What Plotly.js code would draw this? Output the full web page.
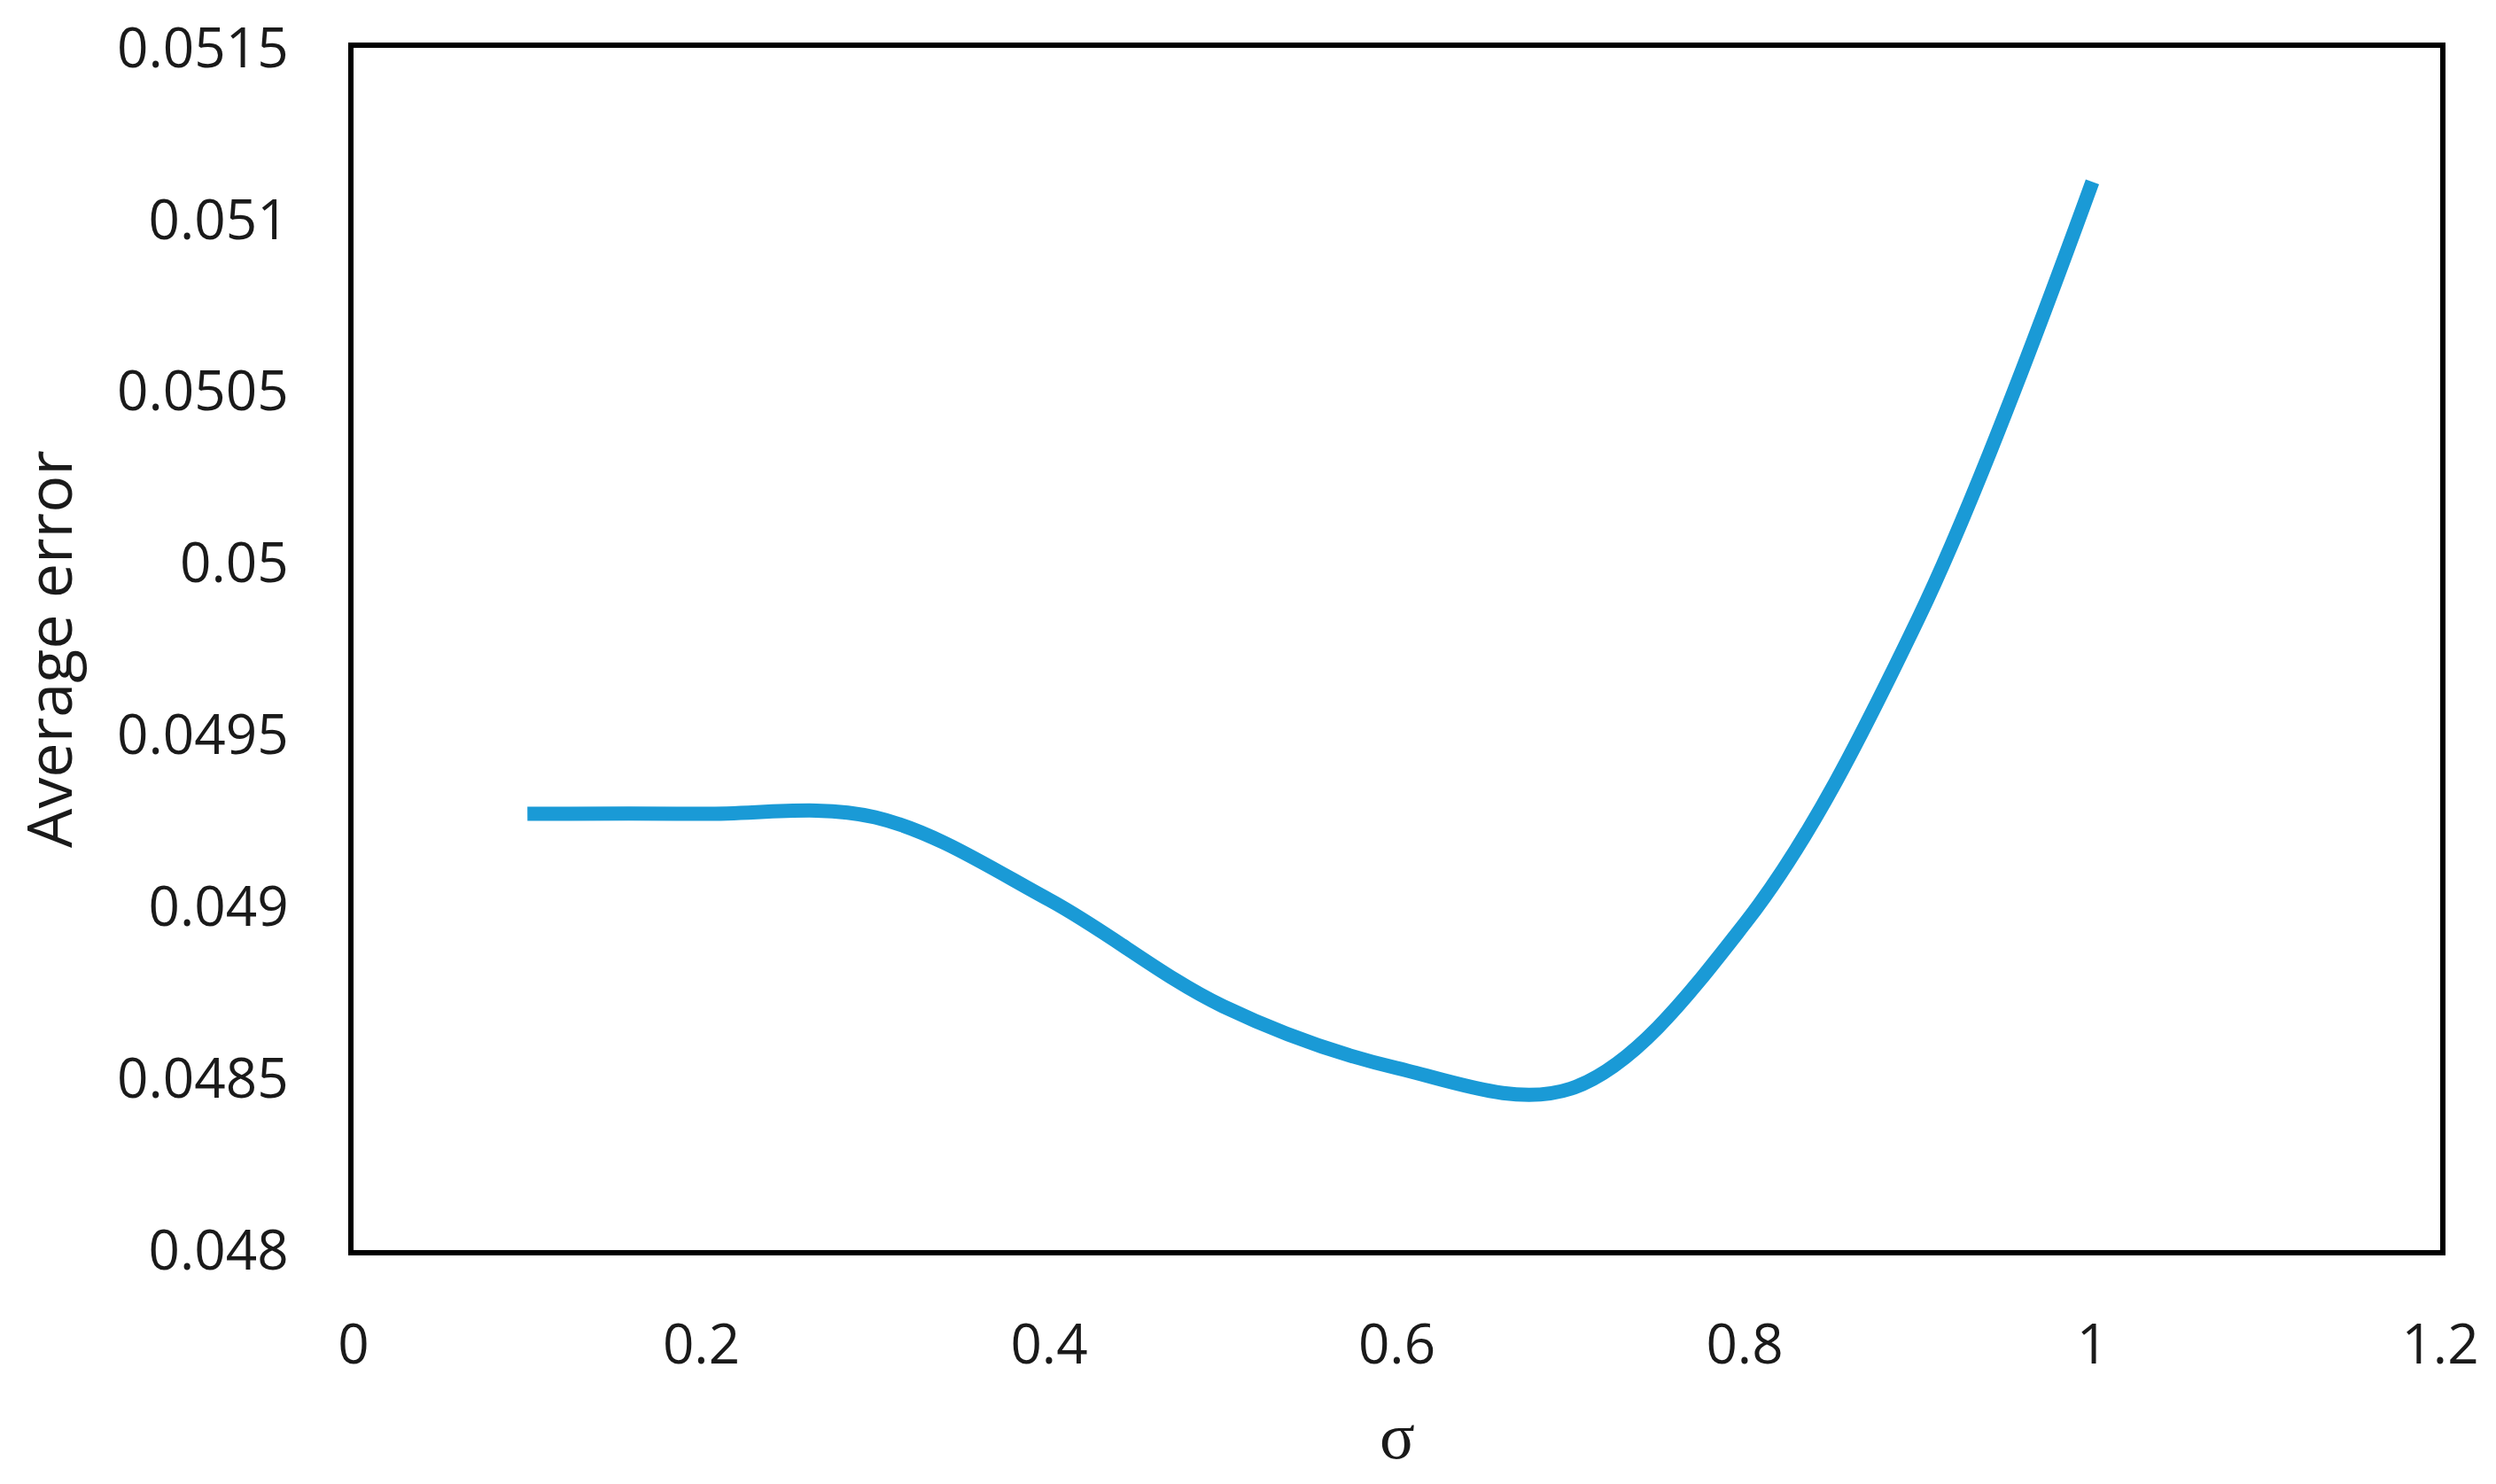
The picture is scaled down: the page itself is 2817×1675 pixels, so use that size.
<!DOCTYPE html>
<html>
<head>
<meta charset="utf-8">
<script src="https://cdn.plot.ly/plotly-3.0.1.min.js"></script>
<style>
  html, body { margin: 0; padding: 0; background: #fff; }
  #myPlot { width: 2817px; height: 1675px; }
</style>
</head>
<body>
<div id="myPlot"></div>
<script>
// sigma values and the average error
const sigma = [0.1, 0.2, 0.3, 0.4, 0.5, 0.6, 0.7, 0.8, 0.9, 1.0];
const avgError = [0.04927, 0.04927, 0.04926, 0.04902, 0.04871, 0.04853, 0.04847, 0.04895, 0.04984, 0.05111];

const xTicks = [0, 0.2, 0.4, 0.6, 0.8, 1, 1.2];
const yTicks = [0.048, 0.0485, 0.049, 0.0495, 0.05, 0.0505, 0.051, 0.0515];

const tickFont = { family: "Open Sans, sans-serif", size: 62, color: "#1a1a1a" };

// Define Data
const data = [{
  x: sigma,
  y: avgError,
  mode: "lines",
  line: { color: "#1a9ad6", width: 16, shape: "spline", smoothing: 1 },
  hoverinfo: "skip"
}];

// Define Layout
const layout = {
  width: 2817,
  height: 1675,
  margin: { l: 399, r: 63, t: 54, b: 264 },
  paper_bgcolor: "#fff",
  plot_bgcolor: "#fff",
  showlegend: false,
  xaxis: {
    range: [0, 1.2],
    tickvals: xTicks,
    ticktext: xTicks.map(String),
    showgrid: false,
    zeroline: false,
    showline: true,
    mirror: true,
    linecolor: "#000",
    linewidth: 6,
    ticks: "outside",
    ticklen: 48,
    tickcolor: "rgba(0,0,0,0)",
    tickfont: tickFont
  },
  yaxis: {
    range: [0.048, 0.0515],
    tickvals: yTicks,
    ticktext: yTicks.map(String),
    showgrid: false,
    zeroline: false,
    showline: true,
    mirror: true,
    linecolor: "#000",
    linewidth: 6,
    ticks: "outside",
    ticklen: 55,
    tickcolor: "rgba(0,0,0,0)",
    tickfont: tickFont,
    title: { text: "Average error", font: { family: "Open Sans, sans-serif", size: 70, color: "#1a1a1a" }, standoff: 30 }
  },
  // x title as annotation so it can sit lower than the default spot
  annotations: [{
    text: "σ",
    xref: "paper", yref: "paper",
    x: 0.5, y: -0.155,
    xanchor: "center", yanchor: "middle",
    showarrow: false,
    font: { family: "Liberation Serif, serif", size: 74, color: "#1a1a1a" }
  }]
};

Plotly.newPlot("myPlot", data, layout, { staticPlot: true });
</script>
</body>
</html>
